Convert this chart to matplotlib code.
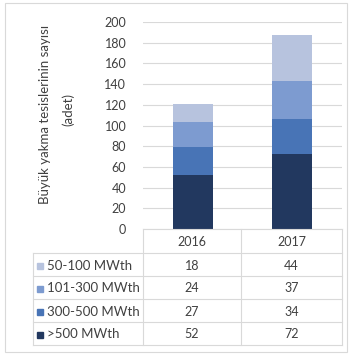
import matplotlib.pyplot as plt
from matplotlib.lines import Line2D
from matplotlib.patches import Rectangle

plt.rcParams['font.family'] = ['Lato', 'DejaVu Sans']

# ------------------------
# Veriler
# ------------------------
years = ["2016", "2017"]
series_names = ["50-100 MWth", "101-300 MWth", "300-500 MWth", ">500 MWth"]
v_50_100 = [18, 44]
v_101_300 = [24, 37]
v_300_500 = [27, 34]
v_500 = [52, 72]
colors = ["#b7c3de", "#7d9bd0", "#4874b6", "#22385f"]

yticks = list(range(0, 201, 20))

W, H = 351, 355
fig = plt.figure(figsize=(W / 100, H / 100), dpi=100)
txt = "#404040"
grid = "#d9d9d9"
fs = 9


def fx(px):
    return px / W


def fy(py):
    return 1 - py / H


# dış çerçeve
fig.patches.append(Rectangle((fx(5), fy(352)), fx(347) - fx(5), fy(3) - fy(352),
                             transform=fig.transFigure, fill=False,
                             edgecolor="#d9d9d9", lw=0.8))

# ------------------------
# Grafik alanı
# ------------------------
x0, x1, ytop, ybot = 143, 342, 22, 229
ax = fig.add_axes([fx(x0), fy(ybot), fx(x1) - fx(x0), fy(ytop) - fy(ybot)])

stack_bottom_first = [v_500, v_300_500, v_101_300, v_50_100]
stack_colors = colors[::-1]
bottom = [0, 0]
for vals, c in zip(stack_bottom_first, stack_colors):
    ax.bar([0, 1], vals, bottom=bottom, width=0.4, color=c, zorder=3)
    bottom = [b + v for b, v in zip(bottom, vals)]

ax.set_xlim(-0.5, 1.5)
ax.set_ylim(0, 200)
ax.set_yticks(yticks)
ax.set_yticklabels([str(t) for t in yticks], fontsize=fs, color=txt)
ax.tick_params(axis="y", length=0, pad=12)
ax.set_xticks([])
ax.grid(axis="y", color=grid, lw=0.8, zorder=0)
for s in ax.spines.values():
    s.set_visible(False)

# eksen başlığı
fig.text(fx(45), fy(114), "Büyük yakma tesislerinin sayısı", rotation=90,
         ha="center", va="center", fontsize=9.5, color=txt)
fig.text(fx(68), fy(110), "(adet)", rotation=90,
         ha="center", va="center", fontsize=9.5, color=txt)

# ------------------------
# Veri tablosu
# ------------------------
tab = fig.add_axes([0, 0, 1, 1], facecolor="none")
tab.set_xlim(0, W)
tab.set_ylim(H, 0)
tab.axis("off")

col_x = [33, 143, 241, 342]
row_y = [229, 253, 276, 299, 322, 345]
line_kw = dict(color=grid, lw=0.8)

tab.add_line(Line2D([col_x[1], col_x[3]], [row_y[0], row_y[0]], **line_kw))
for yy in row_y[1:]:
    tab.add_line(Line2D([col_x[0], col_x[3]], [yy, yy], **line_kw))
tab.add_line(Line2D([col_x[0], col_x[0]], [row_y[1], row_y[-1]], **line_kw))
for xx in col_x[1:]:
    tab.add_line(Line2D([xx, xx], [row_y[0], row_y[-1]], **line_kw))

# yıllar
for j, yr in enumerate(years):
    cx = (col_x[j + 1] + col_x[j + 2]) / 2
    tab.text(cx, (row_y[0] + row_y[1]) / 2 + 1, yr, ha="center", va="center",
             fontsize=fs, color=txt)

table_rows = [v_50_100, v_101_300, v_300_500, v_500]
for i, (name, vals, c) in enumerate(zip(series_names, table_rows, colors)):
    cy = (row_y[i + 1] + row_y[i + 2]) / 2 + 1
    tab.add_patch(Rectangle((37, cy - 3), 6, 6, color=c))
    tab.text(47, cy, name, ha="left", va="center", fontsize=9.5, color=txt)
    for j, v in enumerate(vals):
        cx = (col_x[j + 1] + col_x[j + 2]) / 2
        tab.text(cx, cy, str(v), ha="center", va="center", fontsize=fs, color=txt)

fig.savefig("out.png", dpi=100)
